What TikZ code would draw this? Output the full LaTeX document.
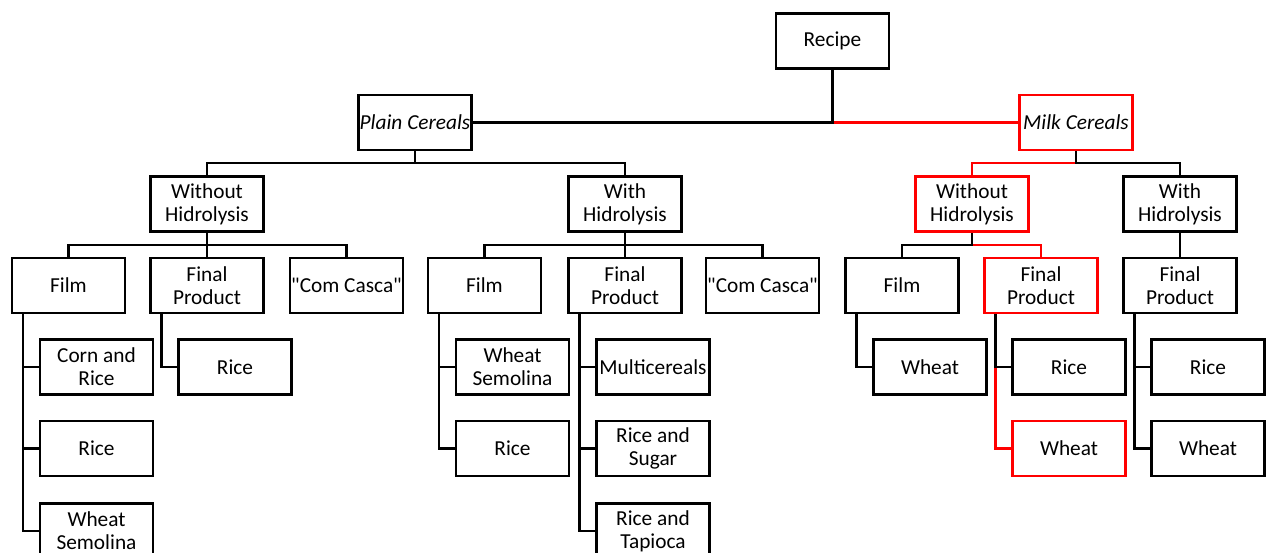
\documentclass[tikz,border=0pt]{standalone}
\usepackage{fontspec}
\setmainfont{Carlito}
\usepackage{tikz}
\usetikzlibrary{positioning,calc}
\tikzset{
     box/.style={rectangle, draw, line width=1.8pt, minimum width=84.5pt,
                 minimum height=41.5pt, inner sep=1pt, align=center,
                 font=\fontsize{16}{17.4}\selectfont},
     hot/.style={draw=red}
     }
\tikzstyle{line} = [draw, line width=1.8pt]
\tikzstyle{hotline} = [line, red]

\begin{document}
\begin{tikzpicture}[x=0.75pt,y=-0.75pt]
    \useasboundingbox (0,0) rectangle (1268,553);
    \clip (0,0) rectangle (1268,553);

    \node [box] (recipe) at (832.5,41) {Recipe};
    \node [box] (plain) at (415,122.5) {\textit{Plain Cereals}};
    \node [box, hot] (milk) at (1076,122.5) {\textit{Milk Cereals}};

    % plain cereals
    \node [box] (pwo) at (207,204) {Without\\Hidrolysis};
    \node [box] (pw) at (625,204) {With\\Hidrolysis};
    \node [box] (pwoFilm) at (68.5,285.5) {Film};
    \node [box] (pwoFinal) at (207,285.5) {Final\\Product};
    \node [box] (pwoCasca) at (346.5,285.5) {\textquotedbl Com Casca\textquotedbl};
    \node [box] (pwFilm) at (484.5,285.5) {Film};
    \node [box] (pwFinal) at (625,285.5) {Final\\Product};
    \node [box] (pwCasca) at (762.5,285.5) {\textquotedbl Com Casca\textquotedbl};
    \node [box] (pwoFilmA) at (96.5,367) {Corn and\\Rice};
    \node [box] (pwoFilmB) at (96.5,448.5) {Rice};
    \node [box] (pwoFilmC) at (96.5,531) {Wheat\\Semolina};
    \node [box] (pwoFinalA) at (235,367) {Rice};
    \node [box] (pwFilmA) at (512.5,367) {Wheat\\Semolina};
    \node [box] (pwFilmB) at (512.5,448.5) {Rice};
    \node [box] (pwFinalA) at (653,367) {Multicereals};
    \node [box] (pwFinalB) at (653,448.5) {Rice and\\Sugar};
    \node [box] (pwFinalC) at (653,531) {Rice and\\Tapioca};

    % milk cereals
    \node [box, hot] (mwo) at (972,204) {Without\\Hidrolysis};
    \node [box] (mw) at (1180,204) {With\\Hidrolysis};
    \node [box] (mwoFilm) at (902,285.5) {Film};
    \node [box, hot] (mwoFinal) at (1041,285.5) {Final\\Product};
    \node [box] (mwFinal) at (1180,285.5) {Final\\Product};
    \node [box] (mwoFilmA) at (930,367) {Wheat};
    \node [box] (mwoFinalA) at (1069,367) {Rice};
    \node [box, hot] (mwoFinalB) at (1069,448.5) {Wheat};
    \node [box] (mwFinalA) at (1208,367) {Rice};
    \node [box] (mwFinalB) at (1208,448.5) {Wheat};

    % highlighted path first, black lines on top
    \path [hotline] (recipe.south) |- (milk.west);
    \path [hotline] (milk.south) |- ($(milk.south)!.5!(mwo.north)$) -| (mwo.north);
    \path [hotline] (mwo.south) |- ($(mwo.south)!.5!(mwoFinal.north)$) -| (mwoFinal.north);
    \path [hotline] ($(mwoFinal.south west)+(12,0)$) |- (mwoFinalB.west);

    \path [line] (recipe.south) |- (plain.east);
    \path [line] (plain.south) |- ($(plain.south)!.5!(pwo.north)$) -| (pwo.north);
    \path [line] (plain.south) |- ($(plain.south)!.5!(pw.north)$) -| (pw.north);
    \path [line] (milk.south) |- ($(milk.south)!.5!(mw.north)$) -| (mw.north);

    \path [line] (pwo.south) |- ($(pwo.south)!.5!(pwoFilm.north)$) -| (pwoFilm.north);
    \path [line] (pwo.south) -- (pwoFinal.north);
    \path [line] (pwo.south) |- ($(pwo.south)!.5!(pwoCasca.north)$) -| (pwoCasca.north);
    \path [line] (pw.south) |- ($(pw.south)!.5!(pwFilm.north)$) -| (pwFilm.north);
    \path [line] (pw.south) -- (pwFinal.north);
    \path [line] (pw.south) |- ($(pw.south)!.5!(pwCasca.north)$) -| (pwCasca.north);
    \path [line] (mwo.south) |- ($(mwo.south)!.5!(mwoFilm.north)$) -| (mwoFilm.north);
    \path [line] (mw.south) -- (mwFinal.north);

    \path [line] ($(pwoFilm.south west)+(12,0)$) |- (pwoFilmA.west);
    \path [line] ($(pwoFilm.south west)+(12,0)$) |- (pwoFilmB.west);
    \path [line] ($(pwoFilm.south west)+(12,0)$) |- (pwoFilmC.west);
    \path [line] ($(pwoFinal.south west)+(12,0)$) |- (pwoFinalA.west);
    \path [line] ($(pwFilm.south west)+(12,0)$) |- (pwFilmA.west);
    \path [line] ($(pwFilm.south west)+(12,0)$) |- (pwFilmB.west);
    \path [line] ($(pwFinal.south west)+(12,0)$) |- (pwFinalA.west);
    \path [line] ($(pwFinal.south west)+(12,0)$) |- (pwFinalB.west);
    \path [line] ($(pwFinal.south west)+(12,0)$) |- (pwFinalC.west);
    \path [line] ($(mwoFilm.south west)+(12,0)$) |- (mwoFilmA.west);
    \path [line] ($(mwoFinal.south west)+(12,0)$) |- (mwoFinalA.west);
    \path [line] ($(mwFinal.south west)+(12,0)$) |- (mwFinalA.west);
    \path [line] ($(mwFinal.south west)+(12,0)$) |- (mwFinalB.west);

\end{tikzpicture}
\end{document}
